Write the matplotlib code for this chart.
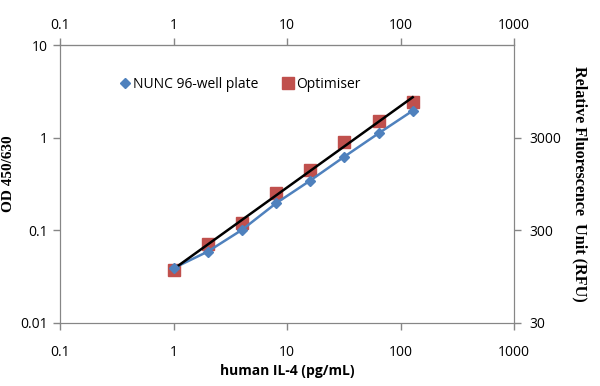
# IL-4 standard curve: NUNC plate vs Optimiser, log-log with RFU secondary axis
import numpy as np
import matplotlib
matplotlib.use('Agg')
import matplotlib.pyplot as plt
from matplotlib.ticker import FixedLocator, FixedFormatter, NullLocator

# data
conc = [1, 2, 4, 8, 16, 32, 64, 128]
od_nunc = [0.0388, 0.0586, 0.1005, 0.195, 0.343, 0.622, 1.11, 1.95]
od_optimiser = [0.037, 0.0705, 0.119, 0.25, 0.447, 0.89, 1.52, 2.44]

x_ticks = [0.1, 1, 10, 100, 1000]
x_labels = ['0.1', '1', '10', '100', '1000']
y_ticks = [0.01, 0.1, 1, 10]
y_labels = ['0.01', '0.1', '1', '10']
rfu_ticks = [30, 300, 3000]
rfu_labels = ['30', '300', '3000']

blue = '#4F81BD'
red = '#C0504D'
grey = '#868686'
sans = 'Open Sans'

fig = plt.figure(figsize=(6, 3.86), dpi=100)
ax = fig.add_axes([0.1, 0.164, 0.7567, 0.7194])

ax.set_xscale('log')
ax.set_yscale('log')
ax.set_xlim(0.1, 1000)
ax.set_ylim(0.01, 10)

# power trendline through the Optimiser points
coef = np.polyfit(np.log10(conc), np.log10(od_optimiser), 1)
xfit = np.array([conc[0], conc[-1]])
yfit = 10 ** np.polyval(coef, np.log10(xfit))

ax.plot(conc, od_nunc, color=blue, lw=1.8, zorder=3)
ax.plot(conc, od_optimiser, ls='none', marker='s', ms=9, color=red,
        label='Optimiser', zorder=2)
ax.plot(xfit, yfit, color='black', lw=1.8, zorder=4)
ax.plot(conc, od_nunc, ls='none', marker='D', ms=5.5, color=blue,
        label='NUNC 96-well plate', zorder=5)

for s in ax.spines.values():
    s.set_color(grey)

ax.xaxis.set_major_locator(FixedLocator(x_ticks))
ax.xaxis.set_major_formatter(FixedFormatter(x_labels))
ax.xaxis.set_minor_locator(NullLocator())
ax.yaxis.set_major_locator(FixedLocator(y_ticks))
ax.yaxis.set_major_formatter(FixedFormatter(y_labels))
ax.yaxis.set_minor_locator(NullLocator())
ax.tick_params(axis='y', direction='out', length=5, width=1, color=grey,
               labelsize=10, pad=4)
ax.tick_params(axis='x', direction='out', length=5, width=1, color=grey,
               labelsize=10, pad=11)
for lab in ax.get_xticklabels() + ax.get_yticklabels():
    lab.set_family(sans)

# top axis repeats the concentration ticks
top = ax.secondary_xaxis('top')
top.xaxis.set_major_locator(FixedLocator(x_ticks))
top.xaxis.set_major_formatter(FixedFormatter(x_labels))
top.xaxis.set_minor_locator(NullLocator())
top.tick_params(direction='out', length=5, width=1, color=grey,
                labelsize=10, pad=4)
for lab in top.get_xticklabels():
    lab.set_family(sans)
top.spines['top'].set_color(grey)

# secondary axis for fluorescence
ax2 = ax.twinx()
ax2.set_yscale('log')
ax2.set_ylim(30, 30000)
ax2.yaxis.set_major_locator(FixedLocator(rfu_ticks))
ax2.yaxis.set_major_formatter(FixedFormatter(rfu_labels))
ax2.yaxis.set_minor_locator(NullLocator())
ax2.tick_params(axis='y', direction='out', length=5, width=1, color=grey,
                labelsize=10, pad=6)
for lab in ax2.get_yticklabels():
    lab.set_family(sans)
for s in ax2.spines.values():
    s.set_color(grey)

ax.set_xlabel('human IL-4 (pg/mL)', family=sans, fontweight='bold',
              fontsize=10, labelpad=3)
ax.set_ylabel('OD 450/630', family='Liberation Serif', fontweight='bold',
              fontsize=11)
ax.yaxis.set_label_coords(-0.099, 0.535)
ax2.set_ylabel('Relative Fluorescence  Unit (RFU)', family='Liberation Serif',
               fontweight='bold', fontsize=11.6, rotation=-90, va='center')
ax2.yaxis.set_label_coords(1.145, 0.5)

handles, labels = ax.get_legend_handles_labels()
ax.legend(handles[::-1], labels[::-1], ncol=2, frameon=False,
          loc='upper left', bbox_to_anchor=(0.1, 0.93),
          prop={'family': sans, 'size': 10}, handletextpad=0.1,
          columnspacing=1.6, handlelength=1.0)

fig.savefig('out.png', dpi=100)
